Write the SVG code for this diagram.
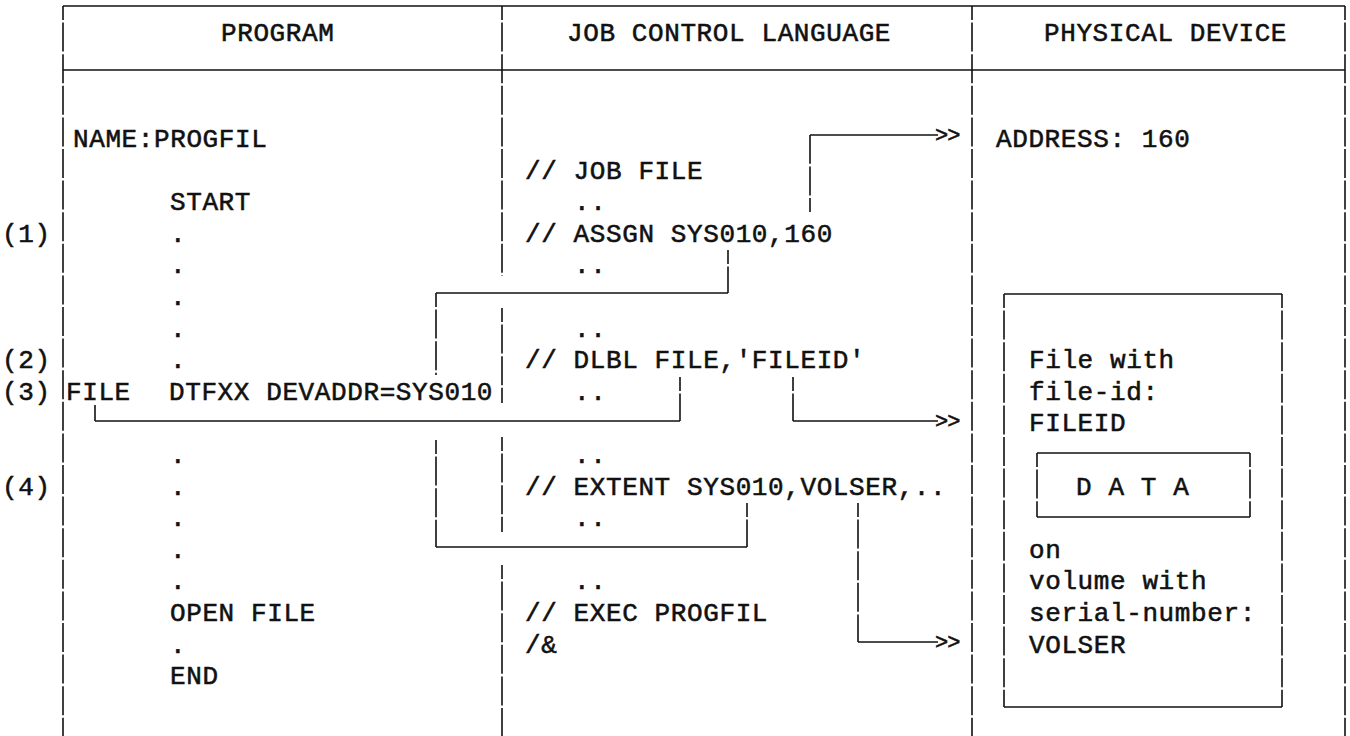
<svg xmlns="http://www.w3.org/2000/svg" width="1350" height="736" viewBox="0 0 1350 736">
<style>
  text { font-family: "Liberation Mono", "DejaVu Sans Mono", monospace; font-size: 26px; letter-spacing: 0.6px; fill: #111; stroke: #111; stroke-width: 0.55; white-space: pre; }
  .arr { font-size: 22px; letter-spacing: -1px; }
  line { stroke: #111; stroke-width: 1.6; fill: none; }
  .v { stroke-dasharray: 29 2.6; stroke-dashoffset: 15; }
</style>
<rect x="0" y="0" width="1350" height="736" fill="#fff"/>

<g id="frame">
  <line x1="63" y1="6" x2="1345" y2="6"/>
  <line x1="63" y1="70" x2="1345" y2="70"/>
  <line class="v" x1="63" y1="6" x2="63" y2="736"/>
  <line class="v" x1="502" y1="6" x2="502" y2="276"/>
  <line class="v" x1="502" y1="308" x2="502" y2="403"/>
  <line class="v" x1="502" y1="437" x2="502" y2="532"/>
  <line class="v" x1="502" y1="565" x2="502" y2="736"/>
  <line class="v" x1="972" y1="6" x2="972" y2="736"/>
  <line class="v" x1="1345" y1="6" x2="1345" y2="736"/>
  <text x="221" y="41">PROGRAM</text>
  <text x="567" y="41">JOB CONTROL LANGUAGE</text>
  <text x="1044" y="41">PHYSICAL DEVICE</text>
</g>

<g id="labels">
  <text x="2" y="241.8">(1)</text>
  <text x="2" y="368.2">(2)</text>
  <text x="2" y="399.8">(3)</text>
  <text x="2" y="494.6">(4)</text>
</g>

<g id="col-program">
  <text x="73" y="147">NAME:PROGFIL</text>
  <text x="170" y="210.2">START</text>
  <text x="170" y="241.8">.</text>
  <text x="170" y="273.4">.</text>
  <text x="170" y="305">.</text>
  <text x="170" y="336.6">.</text>
  <text x="170" y="368.2">.</text>
  <text y="399.8"><tspan x="66">FILE</tspan><tspan x="169">DTFXX DEVADDR=SYS010</tspan></text>
  <text x="170" y="463">.</text>
  <text x="170" y="494.6">.</text>
  <text x="170" y="526.2">.</text>
  <text x="170" y="557.8">.</text>
  <text x="170" y="589.4">.</text>
  <text x="170" y="621">OPEN FILE</text>
  <text x="170" y="652.6">.</text>
  <text x="170" y="684.2">END</text>
</g>

<g id="col-jcl">
  <text x="525" y="178.6">// JOB FILE</text>
  <text x="574" y="210.2">..</text>
  <text x="525" y="241.8">// ASSGN SYS010,160</text>
  <text x="574" y="273.4">..</text>
  <text x="574" y="336.6">..</text>
  <text x="525" y="368.2">// DLBL FILE,'FILEID'</text>
  <text x="574" y="399.8">..</text>
  <text x="574" y="463">..</text>
  <text x="525" y="494.6">// EXTENT SYS010,VOLSER,..</text>
  <text x="574" y="526.2">..</text>
  <text x="574" y="589.4">..</text>
  <text x="525" y="621">// EXEC PROGFIL</text>
  <text x="525" y="652.6">/&amp;</text>
</g>

<g id="col-device">
  <text x="996" y="147">ADDRESS: 160</text>
</g>

<g id="device-file">
  <line x1="1004" y1="294" x2="1282" y2="294"/>
  <line x1="1004" y1="707" x2="1282" y2="707"/>
  <line class="v" x1="1004" y1="294" x2="1004" y2="707"/>
  <line class="v" x1="1282" y1="294" x2="1282" y2="707"/>
  <text x="1029" y="368.2">File with</text>
  <text x="1029" y="399.8">file-id:</text>
  <text x="1029" y="431.4">FILEID</text>
  <text x="1029" y="557.8">on</text>
  <text x="1029" y="589.4">volume with</text>
  <text x="1029" y="621">serial-number:</text>
  <text x="1029" y="652.6">VOLSER</text>
</g>

<g id="data-box">
  <line x1="1037" y1="453" x2="1250" y2="453"/>
  <line x1="1037" y1="517" x2="1250" y2="517"/>
  <line class="v" x1="1037" y1="453" x2="1037" y2="517"/>
  <line class="v" x1="1250" y1="453" x2="1250" y2="517"/>
  <text x="1076" y="494.6">D A T A</text>
</g>

<g id="connectors">
  <line class="v" x1="810" y1="212" x2="810" y2="135"/>
  <line x1="810" y1="135" x2="938" y2="135"/>
  <text class="arr" x="935" y="142">&gt;&gt;</text>
  <line class="v" x1="728" y1="250" x2="728" y2="293"/>
  <line x1="436" y1="293" x2="728" y2="293"/>
  <line class="v" x1="436" y1="293" x2="436" y2="375"/>
  <line class="v" x1="680" y1="377" x2="680" y2="421"/>
  <line x1="95" y1="421" x2="680" y2="421"/>
  <line x1="95" y1="405" x2="95" y2="421"/>
  <line class="v" x1="793" y1="377" x2="793" y2="421"/>
  <line x1="793" y1="421" x2="938" y2="421"/>
  <text class="arr" x="935" y="428">&gt;&gt;</text>
  <line class="v" x1="747" y1="503" x2="747" y2="547"/>
  <line x1="436" y1="547" x2="747" y2="547"/>
  <line class="v" x1="436" y1="440" x2="436" y2="547"/>
  <line class="v" x1="858" y1="503" x2="858" y2="642"/>
  <line x1="858" y1="642" x2="938" y2="642"/>
  <text class="arr" x="935" y="649">&gt;&gt;</text>
</g>
</svg>
